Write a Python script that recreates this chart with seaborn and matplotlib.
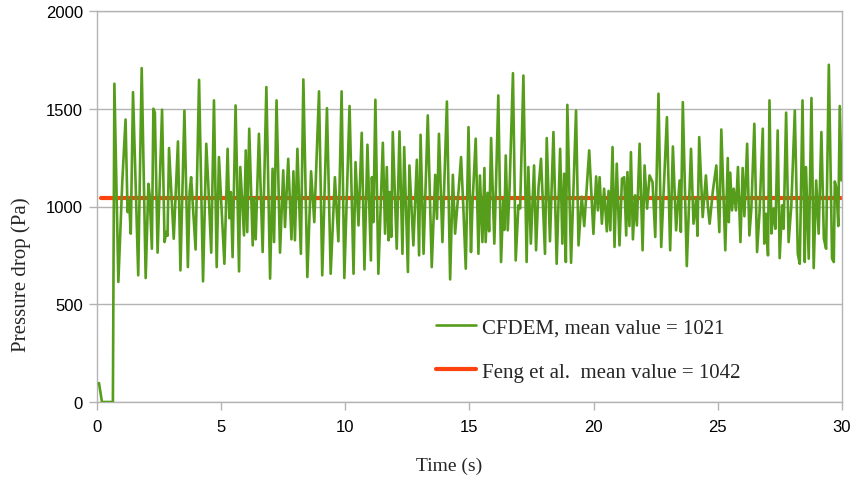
import numpy as np
import pandas as pd
import matplotlib
matplotlib.use("Agg")
import matplotlib.pyplot as plt
import seaborn as sns

# CFDEM pressure-drop time series
time_s = [0.08, 0.2, 0.64, 0.70, 0.86, 1.02, 1.15, 1.23, 1.29, 1.36, 1.45, 1.66, 1.80, 1.96,
          2.07, 2.12, 2.21, 2.27, 2.33, 2.44, 2.62, 2.72, 2.79, 2.84, 2.90, 3.09, 3.26, 3.36,
          3.52, 3.66, 3.73, 3.79, 3.90, 3.97, 4.11, 4.27, 4.40, 4.48, 4.60, 4.71, 4.82, 4.91,
          5.13, 5.26, 5.33, 5.39, 5.46, 5.58, 5.72, 5.77, 5.92, 5.99, 6.05, 6.13, 6.27, 6.32,
          6.39, 6.52, 6.67, 6.82, 6.97, 7.07, 7.13, 7.23, 7.37, 7.50, 7.57, 7.70, 7.83, 7.91,
          7.97, 8.07, 8.21, 8.31, 8.47, 8.62, 8.75, 8.94, 9.07, 9.26, 9.41, 9.58, 9.72, 9.85,
          9.96, 10.17, 10.33, 10.41, 10.53, 10.66, 10.77, 10.89, 11.03, 11.07, 11.13, 11.21,
          11.33, 11.51, 11.60, 11.67, 11.74, 11.78, 11.85, 11.91, 12.07, 12.18, 12.30, 12.37,
          12.52, 12.58, 12.74, 12.88, 12.97, 13.03, 13.15, 13.32, 13.48, 13.62, 13.69, 13.77,
          13.91, 14.09, 14.22, 14.33, 14.42, 14.56, 14.66, 14.75, 14.85, 14.96, 15.06, 15.12,
          15.25, 15.36, 15.42, 15.52, 15.60, 15.65, 15.73, 15.79, 15.87, 16.00, 16.07, 16.16,
          16.27, 16.36, 16.40, 16.46, 16.54, 16.61, 16.75, 16.86, 16.97, 17.04, 17.17, 17.30,
          17.37, 17.47, 17.60, 17.68, 17.78, 17.88, 18.04, 18.11, 18.24, 18.38, 18.51, 18.65,
          18.74, 18.81, 18.88, 18.94, 19.09, 19.29, 19.39, 19.52, 19.62, 19.82, 19.99, 20.10,
          20.17, 20.24, 20.33, 20.42, 20.53, 20.60, 20.67, 20.76, 20.84, 20.93, 21.04, 21.14,
          21.23, 21.31, 21.36, 21.44, 21.50, 21.58, 21.67, 21.74, 21.85, 21.97, 22.05, 22.15,
          22.25, 22.37, 22.48, 22.61, 22.72, 22.84, 22.95, 23.08, 23.19, 23.32, 23.46, 23.51,
          23.59, 23.75, 23.86, 23.92, 24.02, 24.13, 24.18, 24.25, 24.39, 24.52, 24.60, 24.67,
          24.80, 24.94, 25.06, 25.14, 25.30, 25.40, 25.44, 25.50, 25.57, 25.64, 25.73, 25.81,
          25.91, 26.00, 26.07, 26.18, 26.27, 26.35, 26.47, 26.58, 26.68, 26.81, 26.87, 26.94,
          27.02, 27.08, 27.16, 27.25, 27.32, 27.41, 27.49, 27.59, 27.65, 27.75, 27.85, 27.96,
          28.10, 28.22, 28.30, 28.41, 28.50, 28.55, 28.66, 28.77, 28.86, 28.96, 29.06, 29.17,
          29.27, 29.36, 29.47, 29.60, 29.67, 29.71, 29.78, 29.85, 29.91, 29.98]
pressure_pa = [97, 0, 0, 1628, 614, 1133, 1445, 971, 1030, 861, 1585, 648, 1708, 634,
               1116, 1060, 784, 1500, 1480, 764, 1495, 818, 870, 850, 1299, 835, 1333, 673,
               1491, 690, 1074, 1150, 929, 780, 1648, 617, 1321, 1116, 764, 1543, 690, 1253,
               707, 1295, 940, 1074, 741, 1517, 668, 1202, 852, 1287, 869, 1398, 801, 1043,
               832, 1372, 767, 1611, 631, 1193, 818, 1543, 764, 1185, 895, 1244, 832, 1180,
               827, 1295, 758, 1650, 639, 1180, 920, 1589, 648, 1503, 656, 1150, 822, 1589,
               634, 1514, 656, 1227, 903, 1377, 678, 1316, 724, 1150, 920, 1546,
               656, 1326, 861, 1202, 827, 1074, 844, 1381, 784, 1384, 758, 1304,
               665, 1210, 801, 1239, 750, 1367, 758, 1466, 690, 1162, 937, 1372,
               818, 1537, 627, 1162, 861, 1082, 1253, 1000, 682, 1406, 767, 1010,
               1347, 758, 1159, 818, 1197, 818, 1070, 873, 1350, 810, 1125, 1568,
               716, 1031, 880, 1261, 878, 1080, 1682, 724, 1006, 990, 1670, 716,
               1202, 810, 1210, 776, 1100, 1244, 758, 1350, 822, 1381, 707, 1295,
               810, 1168, 716, 1520, 712, 1491, 801, 1050, 900, 1287, 860, 1154,
               980, 1150, 912, 1091, 873, 1080, 878, 1304, 793, 1219, 801, 1142,
               1150, 852, 1176, 900, 1278, 832, 1057, 903, 1321, 776, 1210, 989,
               1159, 1125, 844, 1577, 793, 1133, 1457, 776, 1307, 878, 1133, 870,
               1534, 695, 1091, 1295, 912, 1040, 850, 1355, 946, 1159, 1000, 912,
               1080, 1210, 869, 1394, 776, 1248, 920, 1173, 980, 1091, 980, 1202,
               818, 1197, 950, 1321, 852, 989, 1423, 767, 972, 1398, 810, 963,
               750, 1543, 862, 989, 886, 1389, 736, 1006, 886, 1480, 818, 1006,
               1491, 758, 707, 1543, 716, 1202, 733, 1555, 685, 1133, 861, 1381,
               835, 784, 1725, 733, 716, 1128, 1090, 900, 1514, 1133]

# Feng et al. mean value line
feng_time = [0.15, 29.95]
feng_pressure = [1042, 1042]

series_labels = ["CFDEM, mean value = 1021", "Feng et al.  mean value = 1042"]
x_ticks = [0, 5, 10, 15, 20, 25, 30]
y_ticks = [0, 500, 1000, 1500, 2000]

GREEN = "#579d1c"
ORANGE = "#ff420e"
GRID = "#b3b3b3"

sns.set_style("white")
plt.rcParams["font.family"] = ["Liberation Sans", "DejaVu Sans"]

fig = plt.figure(figsize=(8.53, 4.81), dpi=100)
ax = fig.add_axes([97 / 853, 1 - 403 / 481, (842 - 97) / 853, (403 - 12) / 481])

df_cfdem = pd.DataFrame({"t": time_s, "p": pressure_pa})
df_feng = pd.DataFrame({"t": feng_time, "p": feng_pressure})

sns.lineplot(data=df_cfdem, x="t", y="p", ax=ax, color=GREEN, linewidth=1.9,
             estimator=None, sort=False, label=series_labels[0], zorder=3)
sns.lineplot(data=df_feng, x="t", y="p", ax=ax, color=ORANGE, linewidth=3.0,
             estimator=None, sort=False, label=series_labels[1], zorder=2)

ax.set_xlim(0, 30)
ax.set_ylim(0, 2000)
ax.set_xticks(x_ticks)
ax.set_yticks(y_ticks)
ax.set_xticklabels([str(v) for v in x_ticks])
ax.set_yticklabels([str(v) for v in y_ticks])
ax.yaxis.grid(True, color=GRID, linewidth=1.0)
ax.xaxis.grid(False)
ax.set_axisbelow(True)
for s in ax.spines.values():
    s.set_color(GRID)
    s.set_linewidth(1.0)
ax.tick_params(axis="both", which="major", direction="out", length=6, width=1.0,
               color=GRID, labelsize=12, labelcolor="black", pad=4)
ax.tick_params(axis="x", pad=6)
ax.tick_params(left=True, bottom=True)

serif = ["Liberation Serif", "DejaVu Serif"]
ax.set_xlabel("Time (s)", fontsize=14, family=serif)
ax.set_ylabel("Pressure drop (Pa)", fontsize=15, family=serif)
ax.xaxis.set_label_coords((449 - 97) / (842 - 97), -(458 - 403) / (403 - 12), transform=ax.transAxes)
ax.yaxis.set_label_coords(-(97 - 31) / (842 - 97), (403 - 275) / (403 - 12), transform=ax.transAxes)

leg = ax.legend(loc="upper left", bbox_to_anchor=(436 / 853, 1 - 319 / 481),
                bbox_transform=fig.transFigure, frameon=False, borderpad=0,
                borderaxespad=0, handlelength=1.9, handletextpad=0.3,
                labelspacing=1.18, prop={"family": serif, "size": 15})

fig.savefig("out.png", dpi=100)
